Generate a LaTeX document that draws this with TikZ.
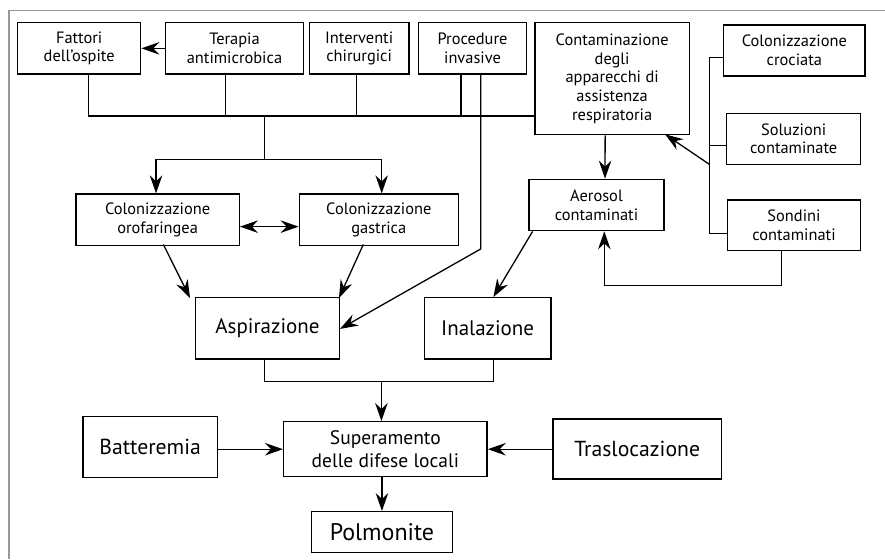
\documentclass[tikz,border=0pt]{standalone}
\usepackage{fontspec}
\setmainfont{PT Sans}
\usetikzlibrary{arrows.meta}
\begin{document}
\begin{tikzpicture}[x=1pt,y=-1pt,
  box/.style={draw,line width=1.3pt,align=center,inner sep=0pt,font=\fontsize{16.4}{18.6}\selectfont},
  midbox/.style={box,font=\fontsize{19.5}{23}\selectfont},
  bigbox/.style={box,font=\fontsize{21.7}{26}\selectfont},
  hugebox/.style={box,font=\fontsize{21}{26}\selectfont},
  ln/.style={line width=1.3pt},
  tip/.tip={Stealth[length=18pt,width=12.5pt,inset=6pt]},
  arr/.style={ln,-tip},
  darr/.style={ln,tip-tip}]
\useasboundingbox (0,0) rectangle (885,559);
% partial frame
\draw[line width=1.6pt,gray!80] (9,559) -- (9,10.5) -- (885,10.5);
% nodes
\node[box,minimum width=123pt,minimum height=51.3pt] (fattori) at (79.2,48.35) {Fattori\\dell’ospite};
\node[box,minimum width=137.6pt,minimum height=51.3pt] (terapia) at (234.5,48.35) {Terapia\\antimicrobica};
\node[box,minimum width=99.7pt,minimum height=51.3pt] (interventi) at (359.15,48.35) {Interventi\\chirurgici};
\node[box,minimum width=108.4pt,minimum height=51.3pt] (procedure) at (472.5,48.35) {Procedure\\invasive};
\node[box,minimum width=154.3pt,minimum height=112pt] (contam) at (612.15,78.7) {Contaminazione\\degli\\apparecchi di\\assistenza\\respiratoria};
\node[box,minimum width=141.3pt,minimum height=51pt] (crociata) at (794.35,50.5) {Colonizzazione\\crociata};
\node[box,minimum width=134pt,minimum height=51pt] (soluzioni) at (793.7,138.8) {Soluzioni\\contaminate};
\node[box,minimum width=135pt,minimum height=51.4pt] (aerosol) at (596.5,205) {Aerosol\\contaminati};
\node[box,minimum width=133.4pt,minimum height=50.7pt] (sondini) at (794,225.35) {Sondini\\contaminati};
\node[box,minimum width=163.3pt,minimum height=51.3pt] (oro) at (157.65,219.65) {Colonizzazione\\orofaringea};
\node[box,minimum width=159pt,minimum height=51.3pt] (gastrica) at (378.8,219.65) {Colonizzazione\\gastrica};
\node[hugebox,minimum width=143.6pt,minimum height=61.3pt] (aspirazione) at (267.5,328.35) {Aspirazione};
\node[hugebox,minimum width=126.7pt,minimum height=61.3pt] (inalazione) at (487.65,328.35) {Inalazione};
\node[bigbox,minimum width=134.4pt,minimum height=61pt] (batteremia) at (150.1,447.2) {Batteremia};
\node[midbox,minimum width=203.5pt,minimum height=55pt] (superamento) at (385.35,449.2) {Superamento\\delle difese locali};
\node[bigbox,minimum width=168.6pt,minimum height=60pt] (traslocazione) at (637.2,449) {Traslocazione};
\node[box,font=\fontsize{24}{28}\selectfont,minimum width=140.7pt,minimum height=41pt] (polmonite) at (381.95,532.2) {Polmonite};
% coordinates
\coordinate (bus) at (535,116);
\coordinate (busmid) at (264.7,116);
\coordinate (split) at (264.7,159.3);
\coordinate (rtop) at (709.3,57.3);
\coordinate (rmid) at (709.3,145.3);
\coordinate (rarrow) at (709.3,164.3);
\coordinate (rbot) at (709.3,233.3);
\coordinate (join) at (381.4,381.7);
% top bus
\draw[arr] (terapia.west) -- (fattori.east);
\draw[ln] ([xshift=9pt]fattori.south) |- (bus);
\draw[ln] ([xshift=-9.2pt]terapia.south) |- (bus);
\draw[ln] ([xshift=-2.8pt]interventi.south) |- (bus);
\draw[ln] ([xshift=-11.5pt]procedure.south) |- (bus);
\draw[ln] (busmid) -- (split);
\draw[arr] (split) -| ([xshift=-1.6pt]oro.north);
\draw[arr] (split) -| ([xshift=2.9pt]gastrica.north);
\draw[arr] ([xshift=8.2pt]procedure.south) -- ++(0,174.3) -- ([yshift=-0.6pt]aspirazione.east);
% contam / right side
\draw[arr] ([xshift=-7pt]contam.south) -- ([xshift=8.5pt]aerosol.north);
\draw[ln] (crociata.west |- rtop) -- (rtop) -- (rbot) -- (sondini.west |- rbot);
\draw[ln] (rmid) -- (soluzioni.west |- rmid);
\draw[arr] (rarrow) -- ([xshift=53pt,yshift=1pt]contam.south);
\draw[arr] ([xshift=-12.3pt]sondini.south) -- ++(0,34) -| ([xshift=7.8pt]aerosol.south);
\draw[arr] ([xshift=4.3pt]aerosol.south west) -- ([xshift=5.7pt]inalazione.north);
% colonizzazione
\draw[darr] ([yshift=-7pt]oro.east) -- ([yshift=-7pt]gastrica.west);
\draw[arr] ([xshift=5.7pt,yshift=1.5pt]oro.south) -- ([xshift=-5pt,yshift=-1pt]aspirazione.north west);
\draw[arr] ([xshift=-15.5pt,yshift=1.5pt]gastrica.south) -- ([xshift=-1pt,yshift=-1pt]aspirazione.north east);
% bottom
\draw[ln] ([xshift=-2.8pt]aspirazione.south) |- (join) -| ([xshift=6pt]inalazione.south);
\draw[arr] (join) -- (superamento.north -| join);
\draw[arr] (batteremia.east |- superamento.west) -- (superamento.west);
\draw[arr] (traslocazione.west |- superamento.east) -- (superamento.east);
\draw[arr] (polmonite.north |- superamento.south) -- (polmonite.north);
\end{tikzpicture}
\end{document}
